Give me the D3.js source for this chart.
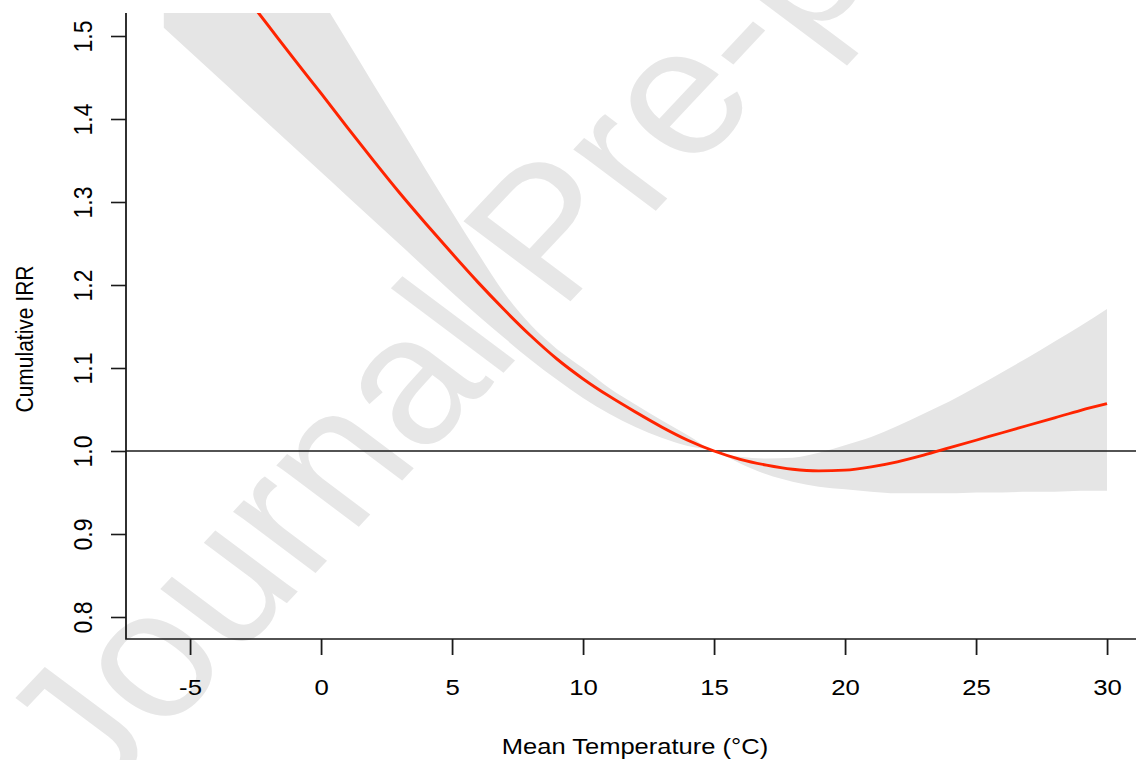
<!DOCTYPE html>
<html>
<head>
<meta charset="utf-8">
<script src="https://cdn.jsdelivr.net/npm/d3@7/dist/d3.min.js"></script>
<style>
  body { margin: 0; background: #fff; }
  svg text { font-family: "Liberation Sans", Arial, Helvetica, sans-serif; }
</style>
</head>
<body>
<div id="chart"></div>
<script>
// mean temperature (°C)
var temps = [-6, -5, -4, -3, -2, -1, 0, 1, 2, 3, 4, 5, 6, 7, 8, 9, 10, 11, 12,
             13, 14, 15, 16, 17, 18, 19, 20, 21, 22, 23, 24, 25, 26, 27, 28, 29, 30];
// cumulative IRR, reference 15 °C
var irr = [1.69, 1.64, 1.595, 1.553, 1.512, 1.471, 1.431, 1.390, 1.350, 1.311, 1.274, 1.238,
           1.203, 1.170, 1.139, 1.111, 1.087, 1.066, 1.047, 1.029, 1.013, 1.000, 0.990, 0.983,
           0.978, 0.976, 0.977, 0.981, 0.987, 0.995, 1.004, 1.013, 1.022, 1.031, 1.040, 1.049, 1.057];
var irrLow = [1.510, 1.481, 1.452, 1.423, 1.394, 1.365, 1.336, 1.307, 1.278, 1.249, 1.220, 1.191,
              1.163, 1.136, 1.110, 1.086, 1.064, 1.045, 1.029, 1.016, 1.006, 1.000, 0.985, 0.972,
              0.963, 0.957, 0.954, 0.951, 0.949, 0.949, 0.949, 0.950, 0.950, 0.951, 0.951, 0.952, 0.952];
var irrHigh = [1.84, 1.79, 1.74, 1.69, 1.64, 1.592, 1.545, 1.494, 1.442, 1.391, 1.339, 1.288,
               1.238, 1.190, 1.152, 1.123, 1.100, 1.076, 1.056, 1.037, 1.019, 1.000, 0.993, 0.991,
               0.992, 0.998, 1.007, 1.017, 1.030, 1.045, 1.060, 1.077, 1.095, 1.113, 1.132, 1.151, 1.171];
var xTicks = [-5, 0, 5, 10, 15, 20, 25, 30];
var yTicks = [0.8, 0.9, 1.0, 1.1, 1.2, 1.3, 1.4, 1.5];

// the picture is a bit wider than tall, draw in plain units and stretch
var sx = 1.12;
var W = 1136 / sx, H = 760;
var padL = 126 / sx, padT = 13, axisY = 639;

var x = d3.scaleLinear().domain([-5, 30]).range([190 / sx, 1107 / sx]);
var y = d3.scaleLinear().domain([0.8, 1.5]).range([617, 36]);

var svg = d3.select("#chart").append("svg").attr("width", 1136).attr("height", H);
var g = svg.append("g").attr("transform", "scale(" + sx + ",1)");

// watermark
g.append("text")
  .attr("transform", "translate(86,806) rotate(-50)")
  .attr("font-size", 181)
  .attr("fill", "#e7e7e7")
  .text("Journal Pre-proof");

g.append("clipPath").attr("id", "plotclip")
  .append("rect")
  .attr("x", padL).attr("y", padT)
  .attr("width", W - padL).attr("height", axisY - padT);

var rows = temps.map(function (t, i) {
  return { t: t, v: irr[i], lo: irrLow[i], hi: irrHigh[i] };
});

var plot = g.append("g").attr("clip-path", "url(#plotclip)");

plot.append("path")
  .datum(rows)
  .attr("fill", "#e5e5e5")
  .attr("d", d3.area()
    .curve(d3.curveMonotoneX)
    .x(function (d) { return x(d.t); })
    .y0(function (d) { return y(d.lo); })
    .y1(function (d) { return y(d.hi); }));

plot.append("line")
  .attr("x1", padL).attr("x2", W)
  .attr("y1", y(1)).attr("y2", y(1))
  .attr("stroke", "#1a1a1a").attr("stroke-width", 1.6);

plot.append("path")
  .datum(rows)
  .attr("fill", "none")
  .attr("stroke", "#ff2400")
  .attr("stroke-width", 2.8)
  .attr("d", d3.line()
    .curve(d3.curveMonotoneX)
    .x(function (d) { return x(d.t); })
    .y(function (d) { return y(d.v); }));

// axes
var xAxis = g.append("g")
  .attr("transform", "translate(0," + axisY + ")")
  .call(d3.axisBottom(x).tickValues(xTicks).tickSize(16)
    .tickFormat(function (d) { return String(d); }));
xAxis.select(".domain").remove();
xAxis.selectAll(".tick line").attr("stroke", "#1a1a1a").attr("stroke-width", 1.6);
xAxis.selectAll(".tick text")
  .attr("y", 56).attr("dy", 0)
  .attr("font-size", 23).attr("fill", "#000");

var yAxis = g.append("g")
  .attr("transform", "translate(" + padL + ",0)")
  .call(d3.axisLeft(y).tickValues(yTicks).tickSize(15 / sx)
    .tickFormat(d3.format(".1f")));
yAxis.select(".domain").remove();
yAxis.selectAll(".tick line").attr("stroke", "#1a1a1a").attr("stroke-width", 1.6);
yAxis.selectAll(".tick text")
  .attr("x", 0).attr("dy", 0)
  .attr("text-anchor", "middle")
  .attr("transform", "translate(" + (92 / sx - padL) + ",0) rotate(-90)")
  .attr("font-size", 23).attr("fill", "#000");

// L-shaped box
g.append("path")
  .attr("d", "M" + padL + "," + padT + "V" + axisY + "H" + W)
  .attr("fill", "none")
  .attr("stroke", "#1a1a1a")
  .attr("stroke-width", 1.6);

g.append("text")
  .attr("x", 635 / sx).attr("y", 754)
  .attr("text-anchor", "middle")
  .attr("font-size", 22.8)
  .text("Mean Temperature (°C)");

g.append("text")
  .attr("transform", "translate(" + (33 / sx) + ",339) rotate(-90)")
  .attr("text-anchor", "middle")
  .attr("font-size", 21)
  .text("Cumulative IRR");
</script>
</body>
</html>
